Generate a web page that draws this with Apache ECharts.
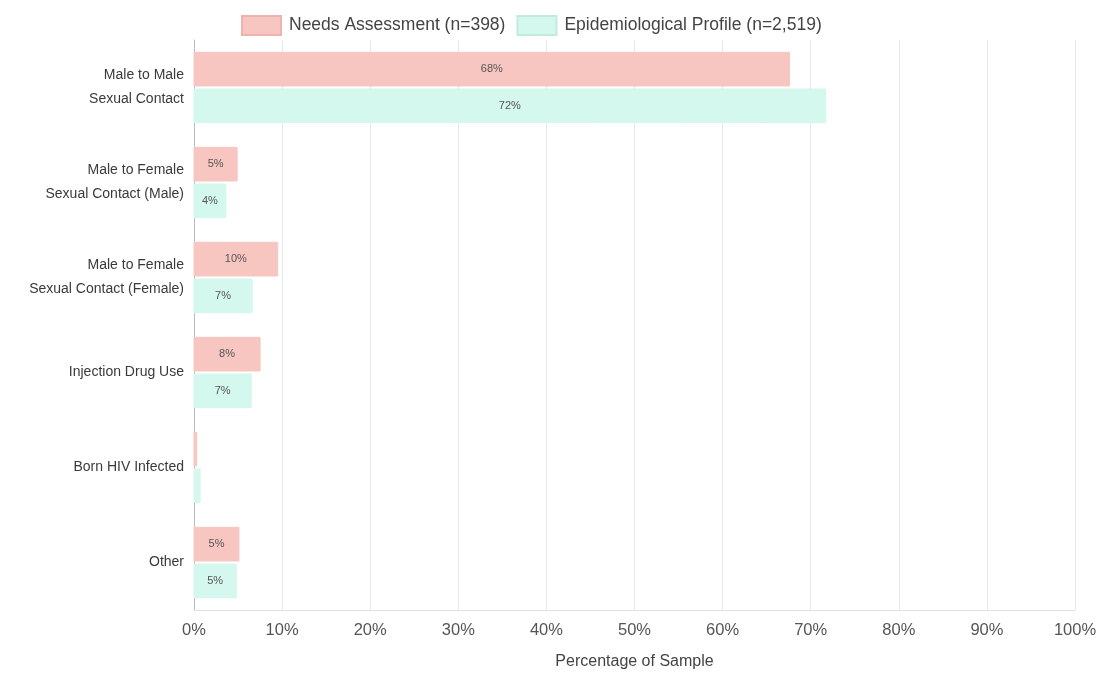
<!DOCTYPE html>
<html>
<head>
<meta charset="utf-8">
<script src="https://cdn.jsdelivr.net/npm/echarts@6/dist/echarts.min.js"></script>
<style>
  html, body { margin: 0; padding: 0; background: #fff; }
  #main { width: 1101px; height: 675px; }
</style>
</head>
<body>
<div id="main"></div>
<script>
let categories = [
    'Male to Male\nSexual Contact',
    'Male to Female\nSexual Contact (Male)',
    'Male to Female\nSexual Contact (Female)',
    'Injection Drug Use',
    'Born HIV Infected',
    'Other'
];
let seriesNames = ['Needs Assessment (n=398)', 'Epidemiological Profile (n=2,519)'];
let needsValues = [67.6, 4.9, 9.5, 7.5, 0.3, 5.1];
let epiValues = [71.7, 3.6, 6.6, 6.5, 0.7, 4.8];
let xTicks = [0, 10, 20, 30, 40, 50, 60, 70, 80, 90, 100];

let fontName = 'Arial, "Liberation Sans", sans-serif';

function barLabel(params) {
    // tiny bars get no label
    if (params.value < 1) {
        return '';
    }
    return Math.round(params.value) + '%';
}

var myChart = echarts.init(document.getElementById('main'));

var option = {
    animation: false,
    textStyle: { fontFamily: fontName },
    legend: {
        top: 10,
        left: 236,
        icon: 'rect',
        itemWidth: 39,
        itemHeight: 19,
        itemGap: 11,
        textStyle: { fontSize: 17.5, color: '#444', fontFamily: fontName, padding: [0, 0, 0, 3] },
        data: [
            { name: seriesNames[0], itemStyle: { color: '#f7c6c0', borderColor: '#eeb3ac', borderWidth: 2 } },
            { name: seriesNames[1], itemStyle: { color: '#d4f7ee', borderColor: '#c2ebe0', borderWidth: 2 } }
        ]
    },
    grid: {
        left: 194,
        right: 26,
        top: 40,
        bottom: 60,
        containLabel: false
    },
    xAxis: {
        type: 'value',
        min: xTicks[0],
        max: xTicks[xTicks.length - 1],
        interval: 10,
        name: 'Percentage of Sample',
        nameLocation: 'middle',
        nameGap: 44,
        nameTextStyle: { fontSize: 16, color: '#444', fontFamily: fontName },
        axisLine: { show: true, lineStyle: { color: '#e2e2e2' } },
        axisTick: { show: false },
        axisLabel: {
            formatter: '{value}%',
            fontSize: 16.5,
            color: '#555',
            margin: 12,
            fontFamily: fontName
        },
        splitLine: { show: true, lineStyle: { color: '#e8e8e8' } }
    },
    yAxis: {
        type: 'category',
        inverse: true,
        data: categories,
        axisLine: { show: true, lineStyle: { color: '#bdbdbd' } },
        axisTick: { show: false },
        axisLabel: {
            fontSize: 14,
            color: '#3a3a3a',
            lineHeight: 24,
            margin: 10,
            align: 'right',
            fontFamily: fontName
        },
        splitLine: { show: false }
    },
    series: [
        {
            name: seriesNames[0],
            type: 'bar',
            data: needsValues,
            barGap: '9%',
            barCategoryGap: '26%',
            itemStyle: { color: '#f7c6c0', borderColor: '#f7c6c0' },
            label: {
                show: true,
                position: 'inside',
                formatter: barLabel,
                fontSize: 11,
                color: '#555'
            }
        },
        {
            name: seriesNames[1],
            type: 'bar',
            data: epiValues,
            itemStyle: { color: '#d4f7ee', borderColor: '#d4f7ee' },
            label: {
                show: true,
                position: 'inside',
                formatter: barLabel,
                fontSize: 11,
                color: '#555'
            }
        }
    ]
};

myChart.setOption(option);
</script>
</body>
</html>
